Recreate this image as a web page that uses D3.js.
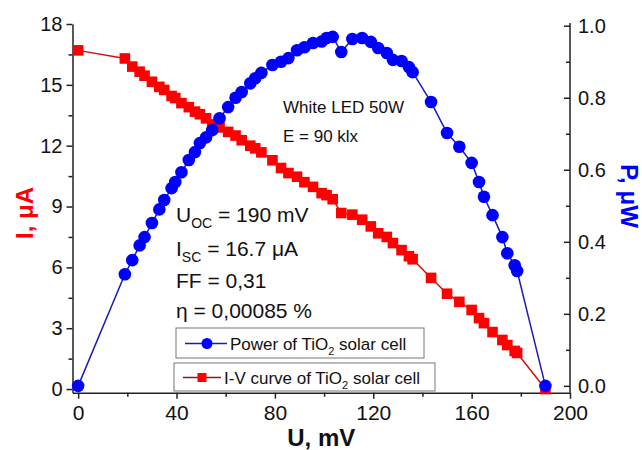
<!DOCTYPE html>
<html>
<head>
<meta charset="utf-8">
<script src="https://cdn.jsdelivr.net/npm/d3@7"></script>
<style>
  body { margin: 0; background: #fff; }
  svg { display: block; font-family: "Liberation Sans", Arial, sans-serif; }
</style>
</head>
<body>
<div id="chart"></div>
<script>
// voltage, mV (shared by both series)
const voltage = [0, 19, 22, 25, 27, 30, 33, 35, 38, 39.5, 42, 45, 47.5, 49.5, 52, 54.5, 57.5, 61, 64,
  66.5, 70, 72, 74.5, 79, 82.5, 85.5, 89, 92, 95.5, 99, 101, 103.5, 107, 111.5, 115.5, 119, 122,
  125.5, 128, 131.5, 134.5, 136, 143.5, 150, 155, 160, 163, 165, 168.5, 172.5, 174.5, 177.5, 178.5, 190];

// current, uA
const current = [16.7, 16.3, 15.9, 15.65, 15.45, 15.15, 14.9, 14.75, 14.45, 14.35, 14.1, 13.9, 13.68,
  13.55, 13.35, 13.05, 12.9, 12.68, 12.5, 12.27, 12.0, 11.87, 11.67, 11.28, 10.9, 10.65, 10.47, 10.2,
  9.97, 9.66, 9.56, 9.36, 8.68, 8.6, 8.35, 8.02, 7.68, 7.5, 7.2, 6.85, 6.55, 6.4, 5.48, 4.7, 4.3, 3.9,
  3.5, 3.25, 2.81, 2.42, 2.17, 1.88, 1.78, 0];

// power, uW
const power = [0, 0.31, 0.349, 0.39, 0.413, 0.452, 0.49, 0.516, 0.549, 0.566, 0.593, 0.627, 0.649,
  0.674, 0.69, 0.71, 0.743, 0.774, 0.8, 0.816, 0.84, 0.854, 0.869, 0.891, 0.9, 0.91, 0.932, 0.94,
  0.952, 0.956, 0.966, 0.969, 0.927, 0.963, 0.966, 0.955, 0.938, 0.924, 0.905, 0.902, 0.885, 0.871,
  0.788, 0.702, 0.664, 0.619, 0.566, 0.525, 0.474, 0.413, 0.368, 0.335, 0.319, 0];

const xTicks = [0, 40, 80, 120, 160, 200];
const xMinor = [20, 60, 100, 140, 180];
const iTicks = [0, 3, 6, 9, 12, 15, 18];
const iMinor = [1.5, 4.5, 7.5, 10.5, 13.5, 16.5];
const pTicks = [0, 0.2, 0.4, 0.6, 0.8, 1.0];
const pMinor = [0.1, 0.3, 0.5, 0.7, 0.9];

const notes = [
  { main: "U", sub: "OC", rest: " = 190 mV" },
  { main: "I", sub: "SC", rest: " = 16.7 \u03bcA" },
  { main: "FF = 0,31", sub: "", rest: "" },
  { main: "\u03b7 = 0,00085 %", sub: "", rest: "" },
];

let dimensions = {
  width: 642,
  height: 450,
  margin: { top: 24, right: 72, bottom: 57.3, left: 72.5 },
};
dimensions.boundedWidth = dimensions.width - dimensions.margin.left - dimensions.margin.right;
dimensions.boundedHeight = dimensions.height - dimensions.margin.top - dimensions.margin.bottom;

const svg = d3.select("#chart").append("svg")
  .attr("width", dimensions.width)
  .attr("height", dimensions.height);

const left = dimensions.margin.left;
const right = dimensions.width - dimensions.margin.right;
const bottom = dimensions.height - dimensions.margin.bottom;

const x = d3.scaleLinear().domain([-2.3, 200]).range([left, right]);
const yI = d3.scaleLinear().domain([-0.18, 18]).range([bottom, dimensions.margin.top]);
const yP = d3.scaleLinear().domain([-0.019, 1.0]).range([bottom, 25.7]);

const axisColor = "#222";

function styleAxis(g, size) {
  g.selectAll("path, line").attr("stroke", axisColor).attr("stroke-width", 1.5);
  g.selectAll("text").attr("fill", "#111").style("font-size", size + "px");
}

// bottom axis
svg.append("g").attr("transform", `translate(0,${bottom})`)
  .call(d3.axisBottom(x).tickValues(xMinor).tickFormat("").tickSize(4).tickSizeOuter(0))
  .call(g => g.select(".domain").remove())
  .call(g => styleAxis(g, 21));
svg.append("g").attr("transform", `translate(0,${bottom})`)
  .call(d3.axisBottom(x).tickValues(xTicks).tickSize(6).tickSizeOuter(0).tickPadding(6))
  .call(g => styleAxis(g, 21));

// left axis
svg.append("g").attr("transform", `translate(${left},0)`)
  .call(d3.axisLeft(yI).tickValues(iMinor).tickFormat("").tickSize(4).tickSizeOuter(0))
  .call(g => g.select(".domain").remove())
  .call(g => styleAxis(g, 20));
svg.append("g").attr("transform", `translate(${left},0)`)
  .call(d3.axisLeft(yI).tickValues(iTicks).tickSize(6).tickSizeOuter(0).tickPadding(4))
  .call(g => styleAxis(g, 20));

// right axis, ticks pointing inward
svg.append("g").attr("transform", `translate(${right},0)`)
  .call(d3.axisRight(yP).tickValues(pMinor).tickFormat("").tickSize(-4).tickSizeOuter(0))
  .call(g => g.select(".domain").remove())
  .call(g => styleAxis(g, 20));
svg.append("g").attr("transform", `translate(${right},0)`)
  .call(d3.axisRight(yP).tickValues(pTicks).tickFormat(d3.format(".1f")).tickSize(-6).tickSizeOuter(0).tickPadding(8))
  .call(g => g.select(".domain").attr("d", `M0,23V${bottom}`))
  .call(g => styleAxis(g, 20));

// axis titles
svg.append("text")
  .attr("x", (left + right) / 2).attr("y", 446)
  .attr("text-anchor", "middle")
  .style("font-size", "24px").style("font-weight", "bold").attr("fill", "#111")
  .text("U, mV");
svg.append("text")
  .attr("transform", "translate(33,213) rotate(-90)")
  .attr("text-anchor", "middle")
  .style("font-size", "24px").style("font-weight", "bold").attr("fill", "#ff0000")
  .text("I, \u03bcA");
svg.append("text")
  .attr("transform", "translate(621,196) rotate(90)")
  .attr("text-anchor", "middle")
  .style("font-size", "24px").style("font-weight", "bold").attr("fill", "#0000ff")
  .text("P, \u03bcW");

const rows = voltage.map((u, i) => ({ u: u, i: current[i], p: power[i] }));

// I-V curve
svg.append("path")
  .datum(rows)
  .attr("fill", "none")
  .attr("stroke", "#d41010")
  .attr("stroke-width", 1.5)
  .attr("d", d3.line().x(d => x(d.u)).y(d => yI(d.i)));
svg.append("g").selectAll("rect")
  .data(rows).enter().append("rect")
  .attr("x", d => x(d.u) - 5.3).attr("y", d => yI(d.i) - 5.3)
  .attr("width", 10.6).attr("height", 10.6)
  .attr("fill", "#ff0000");

// power curve
svg.append("path")
  .datum(rows)
  .attr("fill", "none")
  .attr("stroke", "#1a1ab8")
  .attr("stroke-width", 1.5)
  .attr("d", d3.line().x(d => x(d.u)).y(d => yP(d.p)));
svg.append("g").selectAll("circle")
  .data(rows).enter().append("circle")
  .attr("cx", d => x(d.u)).attr("cy", d => yP(d.p))
  .attr("r", 6.3)
  .attr("fill", "#0000ff");

// annotations
svg.append("text").attr("x", 283).attr("y", 113)
  .style("font-size", "17px").attr("fill", "#111").text("White LED 50W");
svg.append("text").attr("x", 283).attr("y", 142)
  .style("font-size", "17px").attr("fill", "#111").text("E = 90 klx");

const noteY = [222, 256, 288, 318];
notes.forEach((n, k) => {
  const t = svg.append("text").attr("x", 176).attr("y", noteY[k])
    .style("font-size", "21px").attr("fill", "#111");
  t.append("tspan").text(n.main);
  if (n.sub) {
    t.append("tspan").attr("dy", 6).style("font-size", "14px").text(n.sub);
    t.append("tspan").attr("dy", -6).text(n.rest);
  }
});

// legend
const legend = [
  { label: "Power of TiO", after: " solar cell", box: [176, 328, 248, 30], line: "#1a1ab8", color: "#0000ff", shape: "circle", lx: [185, 227], mx: 207 },
  { label: "I-V curve of TiO", after: " solar cell", box: [174, 363, 261, 28], line: "#8b1c1c", color: "#ff0000", shape: "square", lx: [183, 221], mx: 202 },
];
legend.forEach(l => {
  const g = svg.append("g");
  g.append("rect").attr("x", l.box[0]).attr("y", l.box[1]).attr("width", l.box[2]).attr("height", l.box[3])
    .attr("fill", "#fff").attr("stroke", "#777").attr("stroke-width", 1);
  const cy = l.box[1] + l.box[3] / 2 + 0.5;
  g.append("line").attr("x1", l.lx[0]).attr("x2", l.lx[1]).attr("y1", cy).attr("y2", cy)
    .attr("stroke", l.line).attr("stroke-width", 1.5);
  if (l.shape === "circle") {
    g.append("circle").attr("cx", l.mx).attr("cy", cy).attr("r", 5.5).attr("fill", l.color);
  } else {
    g.append("rect").attr("x", l.mx - 4.5).attr("y", cy - 4.5).attr("width", 9).attr("height", 9).attr("fill", l.color);
  }
  const t = g.append("text").attr("x", l.lx[1] + 3).attr("y", cy + 6)
    .style("font-size", "17px").attr("fill", "#111");
  t.append("tspan").text(l.label);
  t.append("tspan").attr("dy", 5).style("font-size", "11px").text("2");
  t.append("tspan").attr("dy", -5).text(l.after);
});
</script>
</body>
</html>
